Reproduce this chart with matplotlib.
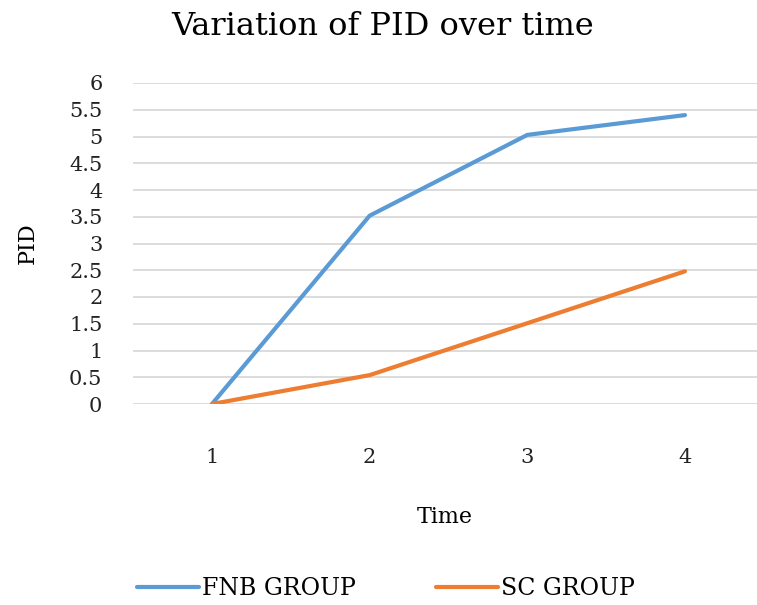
import matplotlib
matplotlib.use('Agg')
import matplotlib.pyplot as plt

# data
time = [1, 2, 3, 4]
fnb_group = [0, 3.52, 5.03, 5.4]
sc_group = [0, 0.54, 1.51, 2.48]
yticks = [0, 0.5, 1, 1.5, 2, 2.5, 3, 3.5, 4, 4.5, 5, 5.5, 6]
ytick_labels = ['0', '0.5', '1', '1.5', '2', '2.5', '3', '3.5', '4', '4.5', '5', '5.5', '6']

plt.rcParams['font.family'] = ['DejaVu Serif']

fig = plt.figure(figsize=(7.57, 6.05), dpi=100)
ax = fig.add_axes([133 / 757, 201 / 605, 624 / 757, 321 / 605])

ax.plot(time, fnb_group, color='#5B9BD5', linewidth=3, label='FNB GROUP',
        solid_capstyle='round')
ax.plot(time, sc_group, color='#ED7D31', linewidth=3, label='SC GROUP',
        solid_capstyle='round')

ax.set_xlim(0.499, 4.457)
ax.set_ylim(0, 6)
ax.set_xticks(time)
ax.set_yticks(yticks)
ax.set_yticklabels(ytick_labels)

ax.grid(axis='y', color='#d9d9d9', linewidth=1.3)
ax.set_axisbelow(True)
for s in ax.spines.values():
    s.set_visible(False)
ax.tick_params(axis='both', length=0, labelsize=15, colors='#222222')
ax.tick_params(axis='y', pad=22)
ax.tick_params(axis='x', pad=32)

ax.set_xlabel('Time', fontsize=16, labelpad=28)
ax.set_ylabel('PID', fontsize=16, labelpad=22)
fig.suptitle('Variation of PID over time', fontsize=23, x=0.505, y=0.982)

fig.legend(loc='lower center', bbox_to_anchor=(0.51, -0.027), ncol=2, frameon=False,
           fontsize=17, handlelength=2.6, handletextpad=0.15, columnspacing=3.4)

fig.savefig('out.png', dpi=100)
